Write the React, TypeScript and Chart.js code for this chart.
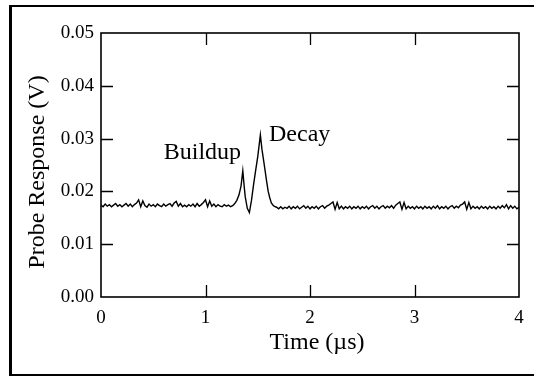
import React, { useEffect, useRef } from "react";
import { Chart, registerables } from "chart.js";

Chart.register(...registerables);

const SERIF = '"Liberation Serif", "Times New Roman", Times, serif';

// sampling step (µs) of the uniformly sampled baseline segments
const sampleStep = 0.02;

// baseline before the event: t = 0.00 .. 1.26 µs
const preStart = 0;
const preValues = [
  0.0174, 0.0171, 0.0176, 0.0172, 0.0175, 0.0171, 0.0174, 0.0177, 0.0172, 0.0175,
  0.0171, 0.0174, 0.0177, 0.0172, 0.0176, 0.0171, 0.0175, 0.0178, 0.0184, 0.0171,
  0.0182, 0.0173, 0.017, 0.0176, 0.0172, 0.0175, 0.0171, 0.0176, 0.0173, 0.0171,
  0.0176, 0.0172, 0.0175, 0.0177, 0.0172, 0.0178, 0.0181, 0.0172, 0.0177, 0.0171,
  0.0174, 0.0171, 0.0175, 0.0172, 0.0176, 0.0171, 0.0177, 0.0172, 0.0175, 0.0179,
  0.0184, 0.0171, 0.0182, 0.0172, 0.0176, 0.0171, 0.0175, 0.0172, 0.0171, 0.0175,
  0.0172, 0.0174, 0.0171, 0.0173,
];

// buildup / decay event
const eventTimes = [
  1.28, 1.3, 1.32, 1.34, 1.357, 1.37, 1.38, 1.4, 1.42, 1.44, 1.46, 1.48, 1.5,
  1.525, 1.54, 1.555, 1.57, 1.585, 1.6, 1.615, 1.63, 1.65, 1.665,
];
const eventValues = [
  0.0177, 0.0183, 0.0193, 0.021, 0.0239, 0.021, 0.019, 0.0168, 0.016, 0.0183, 0.0213,
  0.024, 0.0266, 0.0307, 0.028, 0.026, 0.024, 0.0219, 0.02, 0.0188, 0.0178, 0.0173,
  0.0171,
];

// baseline after the event: t = 1.68 .. 4.00 µs
const postStart = 1.68;
const postValues = [
  0.017, 0.0167, 0.0171, 0.0167, 0.017, 0.0168, 0.0172, 0.0167, 0.0171, 0.0168,
  0.0172, 0.0167, 0.017, 0.0173, 0.0168, 0.0172, 0.0167, 0.0171, 0.0168, 0.0172,
  0.0167, 0.0171, 0.0173, 0.0168, 0.0172, 0.0174, 0.0177, 0.018, 0.0166, 0.0179,
  0.0167, 0.0172, 0.0167, 0.0171, 0.0168, 0.0172, 0.0167, 0.0171, 0.0168, 0.0172,
  0.0167, 0.0171, 0.0168, 0.0172, 0.0167, 0.0171, 0.0173, 0.0168, 0.0172, 0.0167,
  0.0171, 0.0173, 0.0168, 0.0172, 0.0169, 0.0173, 0.0168, 0.0174, 0.0177, 0.018,
  0.0166, 0.0179, 0.0167, 0.0172, 0.0168, 0.0171, 0.0167, 0.0172, 0.0168, 0.0171,
  0.0167, 0.0172, 0.0168, 0.0171, 0.0167, 0.0172, 0.0168, 0.0173, 0.0167, 0.0171,
  0.0168, 0.0172, 0.0167, 0.0171, 0.0173, 0.0168, 0.0172, 0.0169, 0.0174, 0.0176,
  0.018, 0.0166, 0.0179, 0.0167, 0.0172, 0.0168, 0.0171, 0.0167, 0.0172, 0.0168,
  0.0171, 0.0167, 0.0172, 0.0168, 0.0171, 0.0167, 0.0172, 0.0168, 0.0173, 0.0169,
  0.0175, 0.0167, 0.0173, 0.0168, 0.0172, 0.0167, 0.017,
];

// axis ranges and tick steps
const xMin = 0;
const xMax = 4;
const xStep = 1;
const yMin = 0;
const yMax = 0.05;
const yStep = 0.01;

// text
const xTitle = "Time (\u00b5s)";
const yTitle = "Probe Response (V)";
const noteTexts = ["Buildup", "Decay"];
const noteTimes = [0.6, 1.608];
const noteValues = [0.0261, 0.0296];

export default function App() {
  const ref = useRef<HTMLCanvasElement>(null);

  useEffect(() => {
    const points: { x: number; y: number }[] = [];
    preValues.forEach((v, i) => points.push({ x: +(preStart + i * sampleStep).toFixed(3), y: v }));
    eventValues.forEach((v, i) => points.push({ x: eventTimes[i], y: v }));
    postValues.forEach((v, i) => points.push({ x: +(postStart + i * sampleStep).toFixed(3), y: v }));

    const decorations = {
      id: "decorations",
      afterDraw(chart: any) {
        const { ctx, chartArea } = chart;
        const { left, right, top, bottom } = chartArea;
        const xs = chart.scales.x;
        const ys = chart.scales.y;
        ctx.save();
        // plot box
        ctx.strokeStyle = "#000";
        ctx.lineWidth = 1.6;
        ctx.strokeRect(left, top, right - left, bottom - top);
        // inward ticks on all sides
        const tl = 12;
        ctx.lineWidth = 1.3;
        ctx.beginPath();
        xs.ticks.forEach((t: any) => {
          if (t.value <= xMin || t.value >= xMax) return;
          const px = Math.round(xs.getPixelForValue(t.value)) + 0.5;
          ctx.moveTo(px, bottom);
          ctx.lineTo(px, bottom - tl);
          ctx.moveTo(px, top);
          ctx.lineTo(px, top + tl);
        });
        ys.ticks.forEach((t: any) => {
          if (t.value <= yMin + 1e-9 || t.value >= yMax - 1e-9) return;
          const py = Math.round(ys.getPixelForValue(t.value)) + 0.5;
          ctx.moveTo(left, py);
          ctx.lineTo(left + tl, py);
          ctx.moveTo(right, py);
          ctx.lineTo(right - tl, py);
        });
        ctx.stroke();
        // annotations
        ctx.fillStyle = "#000";
        ctx.font = `24px ${SERIF}`;
        ctx.textAlign = "left";
        ctx.textBaseline = "alphabetic";
        noteTexts.forEach((txt, i) => {
          ctx.fillText(txt, xs.getPixelForValue(noteTimes[i]), ys.getPixelForValue(noteValues[i]));
        });
        // axis titles
        ctx.textAlign = "center";
        ctx.fillText(xTitle, (left + right) / 2 + 7, bottom + 52);
        ctx.translate(left - 57, (top + bottom) / 2 + 7);
        ctx.rotate(-Math.PI / 2);
        ctx.fillText(yTitle, 0, 0);
        ctx.restore();
        // outer frame
        ctx.save();
        ctx.fillStyle = "#000";
        ctx.fillRect(9, 5, 3, 371);
        ctx.fillRect(9, 5, 525, 2);
        ctx.fillRect(9, 374, 525, 2);
        ctx.restore();
      },
    };

    const chart = new Chart(ref.current!, {
      type: "line",
      data: {
        datasets: [
          {
            data: points,
            borderColor: "#000",
            borderWidth: 1.4,
            pointRadius: 0,
            tension: 0,
            fill: false,
          },
        ],
      },
      options: {
        animation: false,
        responsive: false,
        devicePixelRatio: 1,
        layout: { padding: { top: 33, right: 15, left: 0, bottom: 0 } },
        plugins: { legend: { display: false }, tooltip: { enabled: false } },
        scales: {
          x: {
            type: "linear",
            min: xMin,
            max: xMax,
            afterFit: (s: any) => {
              s.height = 80;
            },
            grid: { display: false, drawTicks: false },
            border: { display: false },
            ticks: {
              stepSize: xStep,
              padding: 10,
              maxRotation: 0,
              color: "#000",
              font: { family: SERIF, size: 19 },
              callback: (v: any) => String(v),
            },
          },
          y: {
            type: "linear",
            min: yMin,
            max: yMax,
            afterFit: (s: any) => {
              s.width = 101;
            },
            grid: { display: false, drawTicks: false },
            border: { display: false },
            ticks: {
              stepSize: yStep,
              padding: 7,
              color: "#000",
              font: { family: SERIF, size: 19 },
              callback: (v: any) => Number(v).toFixed(2),
            },
          },
        },
      },
      plugins: [decorations],
    });
    return () => chart.destroy();
  }, []);

  return (
    <div style={{ position: "fixed", left: 0, top: 0, width: 534, height: 377, background: "#fff" }}>
      <canvas ref={ref} width={534} height={377} style={{ display: "block" }} />
    </div>
  );
}
